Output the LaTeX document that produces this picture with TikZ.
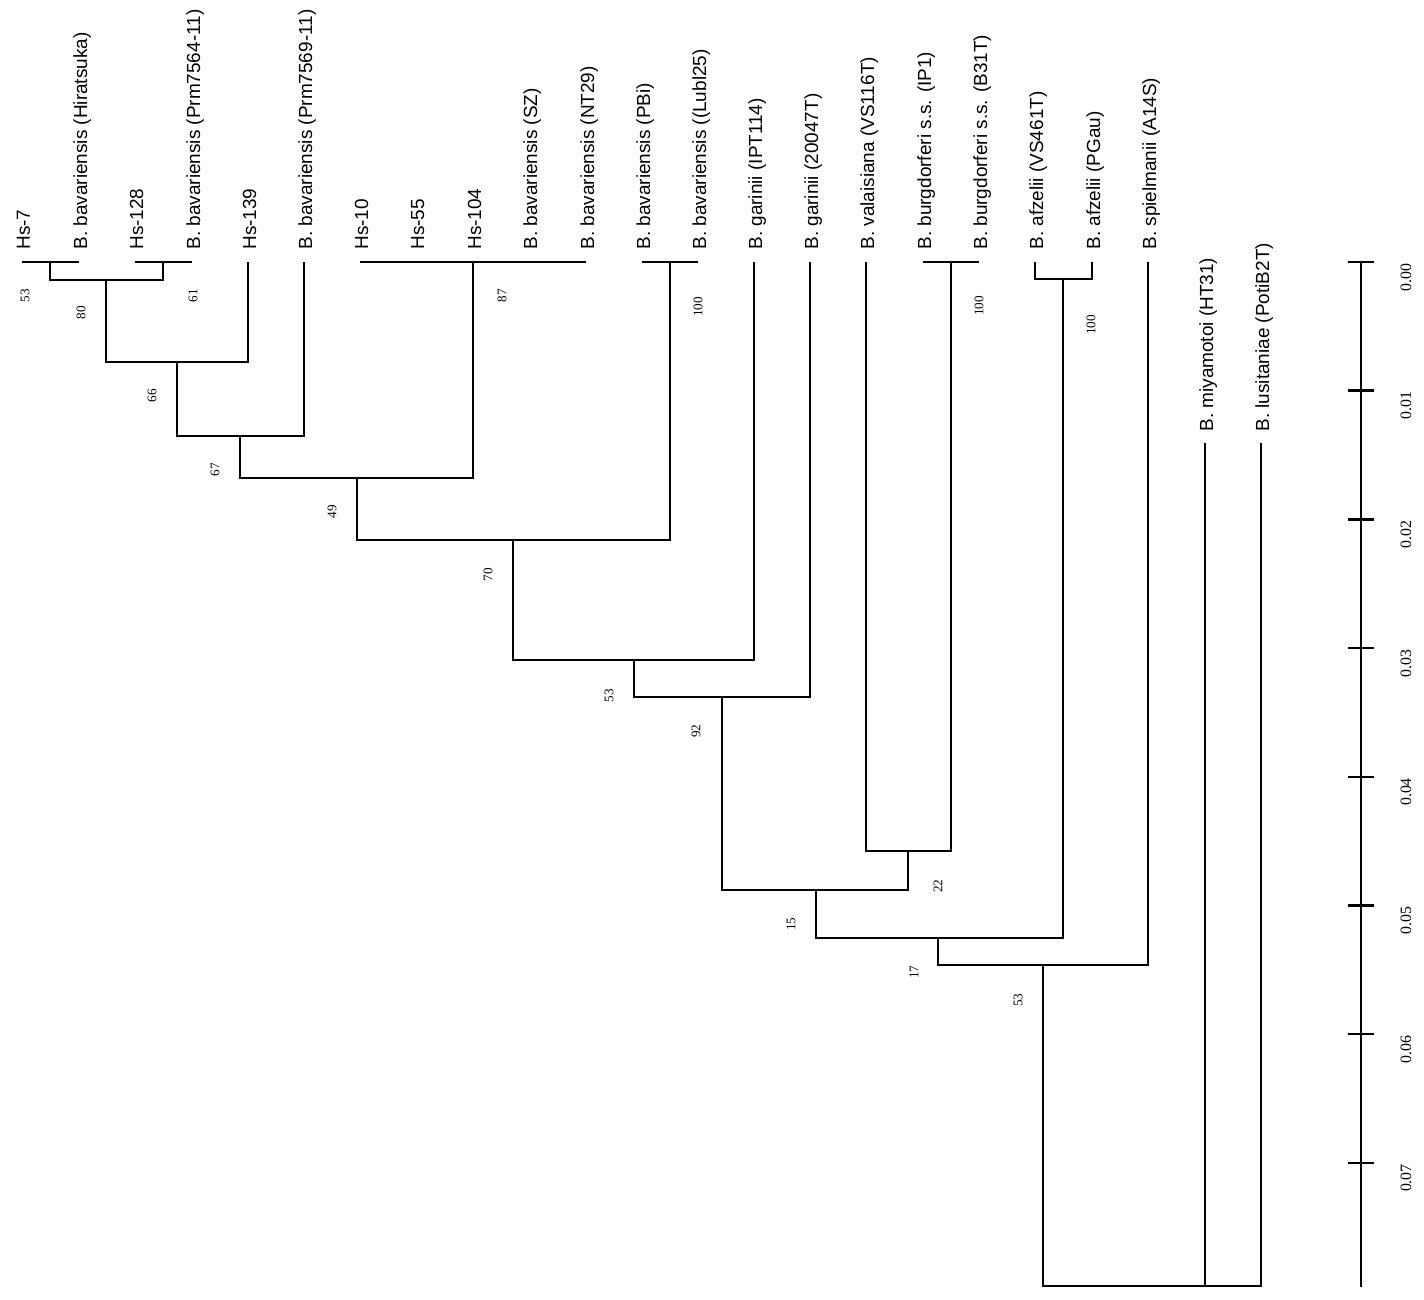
\documentclass[tikz,border=0pt]{standalone}
\usepackage{fontspec}
\setmainfont{Liberation Sans}
\newfontfamily\numfont{Liberation Serif}
\tikzset{
    leafname/.style={rotate=90, anchor=base west, inner sep=0pt, font=\fontsize{10.8}{13}\selectfont},
    bootval/.style={rotate=90, inner sep=0pt, font=\numfont\fontsize{7.5}{9}\selectfont},
    scalelbl/.style={rotate=90, anchor=east, inner sep=0pt, font=\numfont\fontsize{9}{10}\selectfont},
    branch/.style={draw=black, line width=1.1pt},
    scalebar/.style={draw=black, line width=1.4pt}
}
\begin{document}
\begin{tikzpicture}[x=0.02cm, y=-0.02cm]
    \useasboundingbox (0,0) rectangle (1424,1300);

    % --- LEAVES ---
    \foreach \i/\x/\txt in {1/22/Hs-7, 2/79/B. bavariensis (Hiratsuka), 3/135/Hs-128,
        4/192/B. bavariensis (Prm7564-11), 5/248/Hs-139, 6/304/B. bavariensis (Prm7569-11),
        7/360/Hs-10, 8/416/Hs-55, 9/473/Hs-104, 10/529/B. bavariensis (SZ),
        11/586/B. bavariensis (NT29), 12/642/B. bavariensis (PBi), 13/698/B. bavariensis ((Lubl25),
        14/754/B. garinii (IPT114), 15/810/B. garinii (20047T), 16/866/B. valaisiana (VS116T),
        17/923/B. burgdorferi s.s. (IP1), 18/979/B. burgdorferi s.s. (B31T),
        19/1035/B. afzelii (VS461T), 20/1092/B. afzelii (PGau), 21/1148/B. spielmanii (A14S)}
    {
        \coordinate (t\i) at (\x,262);
        \node[leafname] (l\i) at (\x+8,250) {\txt};
    }
    % outgroup
    \coordinate (t22) at (1205,443);
    \node[leafname] (l22) at (1213,432) {B. miyamotoi (HT31)};
    \coordinate (t23) at (1261,443);
    \node[leafname] (l23) at (1269,432) {B. lusitaniae (PotiB2T)};

    % --- INNER NODES ---
    \coordinate (n53a) at (50,262);
    \coordinate (n61) at (163,262);
    \coordinate (n80) at (106,280);
    \coordinate (n66) at (177,362);
    \coordinate (n67) at (240,436);
    \coordinate (n87) at (473,262);
    \coordinate (n49) at (357,478);
    \coordinate (n100a) at (670,262);
    \coordinate (n70) at (513,540);
    \coordinate (n53b) at (634,660);
    \coordinate (n92) at (722,697);
    \coordinate (n100b) at (951,262);
    \coordinate (n22) at (908,851);
    \coordinate (n15) at (816,890);
    \coordinate (n100c) at (1063,279);
    \coordinate (n17) at (938,938);
    \coordinate (n53c) at (1043,965);
    \coordinate (root) at (1152,1286);

    % --- BRANCHES ---
    \draw[branch] (n53a) -| (t1) (n53a) -| (t2);
    \draw[branch] (n61) -| (t3) (n61) -| (t4);
    \draw[branch] (n80) -| (n53a) (n80) -| (n61);
    \draw[branch] (n66) -| (n80) (n66) -| (t5);
    \draw[branch] (n67) -| (n66) (n67) -| (t6);
    \draw[branch] (n87) -| (t7) (n87) -| (t8) (n87) -| (t9) (n87) -| (t10) (n87) -| (t11);
    \draw[branch] (n49) -| (n67) (n49) -| (n87);
    \draw[branch] (n100a) -| (t12) (n100a) -| (t13);
    \draw[branch] (n70) -| (n49) (n70) -| (n100a);
    \draw[branch] (n53b) -| (n70) (n53b) -| (t14);
    \draw[branch] (n92) -| (n53b) (n92) -| (t15);
    \draw[branch] (n100b) -| (t17) (n100b) -| (t18);
    \draw[branch] (n22) -| (t16) (n22) -| (n100b);
    \draw[branch] (n15) -| (n92) (n15) -| (n22);
    \draw[branch] (n100c) -| (t19) (n100c) -| (t20);
    \draw[branch] (n17) -| (n15) (n17) -| (n100c);
    \draw[branch] (n53c) -| (n17) (n53c) -| (t21);
    \draw[branch] (root) -| (n53c) (root) -| (t22) (root) -| (t23);

    % --- BOOTSTRAP VALUES ---
    \node[bootval] (v53a) at (25,296) {53};
    \node[bootval] (v80) at (81,313) {80};
    \node[bootval] (v61) at (193,296) {61};
    \node[bootval] (v66) at (152,396) {66};
    \node[bootval] (v67) at (215,470) {67};
    \node[bootval] (v49) at (332,512) {49};
    \node[bootval] (v87) at (502,296) {87};
    \node[bootval] (v100a) at (698,307) {100};
    \node[bootval] (v70) at (488,575) {70};
    \node[bootval] (v53b) at (609,696) {53};
    \node[bootval] (v92) at (696,731) {92};
    \node[bootval] (v100b) at (979,306) {100};
    \node[bootval] (v22) at (938,886) {22};
    \node[bootval] (v15) at (791,924) {15};
    \node[bootval] (v100c) at (1091,325) {100};
    \node[bootval] (v17) at (914,972) {17};
    \node[bootval] (v53c) at (1018,1000) {53};

    % --- SCALE ---
    \coordinate (s0) at (1361,262);
    \coordinate (s1) at (1361,1287);
    \draw[scalebar] (s0) -- (s1);
    \foreach \k in {0,...,7}{
        \draw[scalebar] (1348,262+128.7*\k) -- (1374,262+128.7*\k);
        \node[scalelbl] (sl\k) at (1406,263+128.7*\k) {0.0\k};
    }
\end{tikzpicture}
\end{document}
